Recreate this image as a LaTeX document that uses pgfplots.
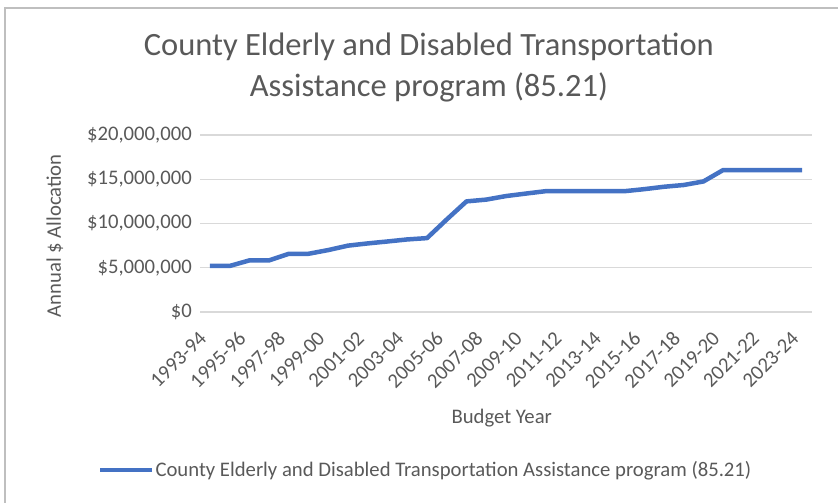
\documentclass[border=0pt]{standalone}
\usepackage{pgfplots}
\pgfplotsset{compat=1.18}
\usepackage{fontspec}
\setmainfont{Carlito}
\definecolor{txt}{HTML}{595959}
\definecolor{gridc}{HTML}{D9D9D9}
\definecolor{serie}{HTML}{4472C4}
\begin{document}
\begin{tikzpicture}
\useasboundingbox (0pt,0pt) rectangle (838pt,503pt);
\draw[color=black!25, line width=1.2pt] (5pt,0pt) -- (5pt,495pt) -- (838pt,495pt);
\begin{axis}[
  at={(200pt,191pt)}, anchor=south west,
  scale only axis, width=612pt, height=177pt,
  xmin=-0.5, xmax=30.5, ymin=0, ymax=20000000,
  xtick={0,2,...,30},
  xticklabels={1993-94,1995-96,1997-98,1999-00,2001-02,2003-04,2005-06,2007-08,2009-10,2011-12,2013-14,2015-16,2017-18,2019-20,2021-22,2023-24},
  ytick={0,5000000,10000000,15000000,20000000},
  yticklabels={{\$0},{\$5,000,000},{\$10,000,000},{\$15,000,000},{\$20,000,000}},
  scaled y ticks=false,
  ymajorgrids, grid style={color=gridc, line width=1.3pt},
  axis line style={draw=none},
  major tick length=0pt, tick style={draw=none},
  tick label style={text=txt, font=\fontsize{20.7}{24}\selectfont, inner sep=0pt},
  xticklabel style={xshift=-7pt, rotate=45, anchor=east},
  xticklabel shift=23pt,
  yticklabel shift=8pt,
  title={County Elderly and Disabled Transportation\\Assistance program (85.21)},
  title style={at={(axis description cs:0.374,1.345)}, anchor=center, align=center, text=txt, font=\fontsize{32.5}{41}\selectfont},
  xlabel={Budget Year},
  xlabel style={at={(axis description cs:0.493,-0.6)}, anchor=center, text=txt, font=\fontsize{20.7}{24}\selectfont},
  ylabel={Annual \$ Allocation},
  ylabel style={at={(axis description cs:-0.237,0.43)}, anchor=center, text=txt, font=\fontsize{20.7}{24}\selectfont},
  legend style={at={(0.368,-0.893)}, anchor=center, draw=none, fill=none, text=txt, font=\fontsize{20.7}{24}\selectfont, inner sep=0pt, nodes={inner sep=1pt}},
  legend image code/.code={\draw[#1] (0pt,0pt) -- (52pt,0pt);},
  /tikz/every even column/.append style={column sep=0pt},
]
\addplot[serie, line width=4.5pt, line join=round] coordinates {
(0,5200000) (1,5200000) (2,5830000) (3,5830000) (4,6580000) (5,6580000)
(6,7000000) (7,7500000) (8,7750000) (9,7970000) (10,8200000) (11,8350000)
(12,10460000) (13,12500000) (14,12700000) (15,13100000) (16,13380000)
(17,13650000) (18,13650000) (19,13650000) (20,13650000) (21,13650000)
(22,13880000) (23,14150000) (24,14350000) (25,14750000) (26,16040000)
(27,16040000) (28,16040000) (29,16040000) (30,16040000)
};
\addlegendentry{County Elderly and Disabled Transportation Assistance program (85.21)}
\end{axis}
\end{tikzpicture}
\end{document}
